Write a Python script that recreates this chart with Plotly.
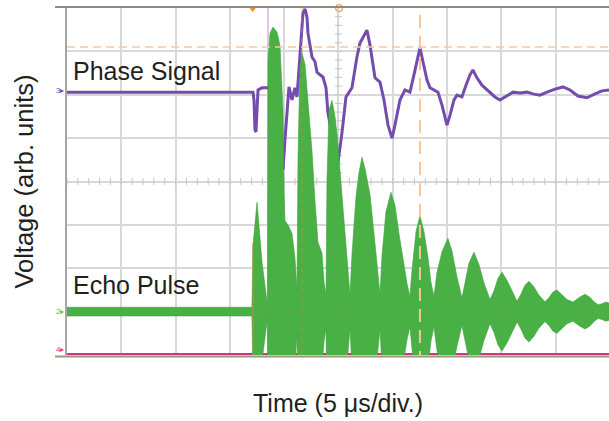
import numpy as np
import plotly.graph_objects as go

# ---- data (time in microseconds, voltage in screen divisions) ----
# Phase signal (channel 3, purple)
phase_t = [0, 17.13, 17.22, 17.31, 17.40, 17.50, 17.59, 17.96, 18.51, 18.69, 19.15, 19.89,
           20.07, 20.26, 20.44, 20.72, 20.99, 21.18, 21.36, 21.55, 21.73, 21.92, 22.10, 22.19,
           22.56, 22.84, 23.02, 23.30, 23.57, 23.85, 24.03, 24.49, 24.95, 25.32, 25.69, 26.24,
           26.70, 26.98, 27.62, 27.90, 28.18, 28.36, 28.82, 29.19, 29.56, 29.93, 30.20, 30.48,
           30.66, 31.12, 31.58, 31.95, 32.23, 32.50, 32.78, 33.15, 33.43, 34.16, 34.53, 34.99,
           35.27, 35.64, 35.91, 36.37, 36.74, 37.11, 37.38, 37.75, 38.21, 38.95, 39.41, 39.87,
           40.42, 41.07, 41.71, 42.36, 42.91, 43.55, 44.20, 44.94, 45.67, 46.32, 47.05, 47.88,
           48.62, 49.26, 49.91]
phase_v = [2.06, 2.06, 1.88, 1.19, 1.14, 1.65, 2.11, 2.16, 2.16, 2.11, 1.42, 0.27,
           0.96, 1.65, 2.18, 1.88, 2.16, 1.95, 2.64, 3.33, 3.88, 3.98, 3.79, 3.42,
           2.87, 2.76, 2.52, 2.46, 2.41, 2.16, 1.58, 0.96, 0.43, 1.12, 1.95, 2.16,
           2.87, 3.19, 3.49, 3.15, 2.69, 2.39, 2.29, 1.88, 1.30, 1.00, 1.30, 1.69,
           1.88, 2.11, 2.06, 2.46, 2.80, 3.08, 2.76, 2.34, 2.16, 2.06, 1.76, 1.30,
           1.53, 1.88, 1.99, 1.95, 2.22, 2.46, 2.57, 2.39, 2.22, 2.06, 1.95, 1.88,
           1.97, 2.06, 2.04, 2.06, 2.02, 1.99, 2.06, 2.13, 2.18, 2.11, 1.97, 1.93,
           2.02, 2.09, 2.11]

# Echo pulse (channel 2, green): baseline and envelope amplitude
echo_baseline = -3.0
echo_t = [0, 17.03, 17.13, 17.50, 17.96, 18.32, 18.46,
          18.51, 18.69, 18.97, 19.34, 19.61, 19.89, 19.98, 20.07, 20.35, 20.72, 20.99, 21.18,
          21.27, 21.45, 21.64, 21.92, 22.19, 22.56, 22.84, 23.11, 23.48, 23.66, 23.85,
          23.94, 24.13, 24.40, 24.68, 24.86, 25.14, 25.41, 25.69, 25.87, 26.06,
          26.24, 26.61, 26.89, 27.16, 27.44, 27.90, 28.27, 28.55, 28.82,
          29.01, 29.37, 29.83, 30.20, 30.57, 30.94, 31.31, 31.58,
          31.77, 32.14, 32.50, 32.87, 33.24, 33.52, 33.79,
          34.07, 34.53, 35.08, 35.45, 35.91, 36.37,
          36.65, 37.02, 37.48, 37.94, 38.40, 38.95,
          39.32, 39.69, 40.06, 40.52, 40.98, 41.44,
          41.80, 42.17, 42.54, 43.00, 43.46, 44.01,
          44.38, 44.75, 45.12, 45.58, 46.04, 46.59,
          46.87, 47.24, 47.70, 48.16, 48.53, 48.90,
          49.26, 49.63, 49.91]
echo_amp = [0.10, 0.10, 1.53, 2.52, 1.14, 0.36, 0.15,
            5.80, 6.42, 6.56, 6.44, 6.14, 4.64, 2.80, 2.10, 2.00, 1.80, 1.25, 0.50,
            3.49, 5.63, 5.96, 5.70, 4.85, 3.70, 2.55, 1.60, 1.35, 0.70, 0.38,
            3.03, 4.64, 4.87, 4.50, 4.10, 3.25, 2.35, 1.45, 0.90, 0.38,
            1.30, 2.65, 3.20, 3.56, 3.30, 2.70, 1.80, 1.05, 0.40,
            1.30, 2.30, 2.75, 2.45, 1.80, 1.20, 0.65, 0.35,
            0.95, 1.85, 2.21, 1.85, 1.25, 0.68, 0.35,
            0.90, 1.38, 1.69, 1.40, 0.80, 0.32,
            0.66, 1.12, 1.37, 1.08, 0.66, 0.28,
            0.48, 0.77, 0.91, 0.72, 0.48, 0.24,
            0.40, 0.61, 0.70, 0.57, 0.38, 0.23,
            0.32, 0.45, 0.50, 0.39, 0.28, 0.22,
            0.28, 0.34, 0.40, 0.33, 0.23, 0.16,
            0.18, 0.22, 0.20]

# Channel 4 (magenta) flat trace
ch4_t = [0, 49.91]
ch4_v = [-3.98, -3.98]

# Cursors / markers
cursor_h_level = 3.10
cursor_v_time = 32.5
cursor_v2_time = 21.64
trigger_time = 18.51
start_time = 17.13
top_marker_t = [17.1, 25.05]

X_RANGE = [0, 49.91]
Y_RANGE = [-4, 4]

FONT = "Arial, 'Liberation Sans', Helvetica, sans-serif"
TXT = "#231f20"
PURPLE = "rgb(116,76,174)"
GREEN = "rgb(72,176,68)"
GREEN_EDGE = "rgb(60,162,60)"

echo_t_a = np.array(echo_t)
echo_amp_a = np.array(echo_amp)

fig = go.Figure()

# center graticule ticks
ct = np.arange(0, 50.01, 1.0)
fig.add_trace(go.Scatter(x=ct, y=np.zeros_like(ct), mode="markers",
                         marker=dict(symbol="line-ns", size=5, line=dict(color="#c4c4c4", width=1)),
                         hoverinfo="skip", showlegend=False))
cv = np.arange(-4, 4.01, 0.2)
fig.add_trace(go.Scatter(x=np.full_like(cv, 25.0), y=cv, mode="markers",
                         marker=dict(symbol="line-ew", size=5, line=dict(color="#c4c4c4", width=1)),
                         hoverinfo="skip", showlegend=False))

# channel 4
fig.add_trace(go.Scatter(x=ch4_t, y=ch4_v, mode="lines",
                         line=dict(color="rgb(212,50,130)", width=2.2),
                         hoverinfo="skip", showlegend=False))

# phase signal
fig.add_trace(go.Scatter(x=phase_t, y=phase_v, mode="lines",
                         line=dict(color=PURPLE, width=3),
                         hoverinfo="skip", showlegend=False))

# echo pulse envelope
fig.add_trace(go.Scatter(x=echo_t_a, y=echo_baseline - echo_amp_a, mode="lines",
                         line=dict(color=GREEN_EDGE, width=0.6),
                         hoverinfo="skip", showlegend=False))
fig.add_trace(go.Scatter(x=echo_t_a, y=echo_baseline + echo_amp_a, mode="lines",
                         line=dict(color=GREEN_EDGE, width=0.6), fill="tonexty",
                         fillcolor=GREEN, hoverinfo="skip", showlegend=False))

# top markers
fig.add_trace(go.Scatter(x=[top_marker_t[0]], y=[4.0], mode="markers", cliponaxis=False,
                         marker=dict(symbol="triangle-down", size=8, color="rgb(240,140,50)"),
                         hoverinfo="skip", showlegend=False))
fig.add_trace(go.Scatter(x=[top_marker_t[1]], y=[4.0], mode="markers", cliponaxis=False,
                         marker=dict(symbol="circle-open", size=7, color="rgb(245,170,110)",
                                     line=dict(width=1.5)),
                         hoverinfo="skip", showlegend=False))

shapes = [
    # top and bottom frame lines
    dict(type="line", xref="paper", yref="paper", x0=-0.022, x1=1, y0=1.003, y1=1.003,
         line=dict(color="#8e8c78", width=2), layer="above"),
    dict(type="line", xref="paper", yref="paper", x0=-0.022, x1=1, y0=-0.004, y1=-0.004,
         line=dict(color="#9c9678", width=2), layer="below"),
    # trigger line
    dict(type="line", xref="x", yref="y", x0=trigger_time, x1=trigger_time, y0=-4, y1=4,
         line=dict(color="rgb(196,140,210)", width=1), layer="below"),
    dict(type="line", xref="x", yref="y", x0=start_time, x1=start_time, y0=-1.42, y1=-4,
         line=dict(color="rgb(200,136,58)", width=1), layer="above"),
    # cursors
    dict(type="line", xref="x", yref="y", x0=0, x1=X_RANGE[1], y0=cursor_h_level, y1=cursor_h_level,
         line=dict(color="rgb(249,200,160)", width=1.5, dash="8px,5px"), layer="above"),
    dict(type="line", xref="x", yref="y", x0=cursor_v_time, x1=cursor_v_time, y0=3.84, y1=-4,
         line=dict(color="rgb(248,196,150)", width=2, dash="13px,8px"), layer="above"),
    dict(type="line", xref="x", yref="y", x0=cursor_v2_time, x1=cursor_v2_time, y0=4, y1=-4,
         line=dict(color="rgba(205,140,70,0.6)", width=1, dash="5px,5px"), layer="above"),
    dict(type="line", xref="x", yref="y", x0=start_time, x1=X_RANGE[1], y0=echo_baseline, y1=echo_baseline,
         line=dict(color="rgba(190,130,60,0.55)", width=1, dash="5px,5px"), layer="above"),
]

annotations = [
    dict(text="Phase Signal", xref="paper", yref="y", x=0.007, y=2.55, xanchor="left", yanchor="middle",
         showarrow=False, font=dict(family=FONT, size=25, color=TXT)),
    dict(text="Echo Pulse", xref="paper", yref="y", x=0.007, y=-2.38, xanchor="left", yanchor="middle",
         showarrow=False, font=dict(family=FONT, size=25, color=TXT)),
    dict(text="Time (5 μs/div.)", xref="paper", yref="paper", x=0.5, y=-0.138, xanchor="center",
         yanchor="middle", showarrow=False, font=dict(family=FONT, size=25, color=TXT)),
    dict(text="Voltage (arb. units)", xref="paper", yref="paper", x=-0.081, y=0.5, xanchor="center",
         yanchor="middle", textangle=-90, showarrow=False, font=dict(family=FONT, size=25.5, color=TXT)),
    dict(text="3▸", xref="paper", yref="y", x=-0.001, y=2.1, xanchor="right", yanchor="middle",
         showarrow=False, font=dict(family=FONT, size=8, color=PURPLE)),
    dict(text="2▸", xref="paper", yref="y", x=-0.001, y=-3.0, xanchor="right", yanchor="middle",
         showarrow=False, font=dict(family=FONT, size=8, color="rgb(110,190,60)")),
    dict(text="4▸", xref="paper", yref="y", x=-0.001, y=-3.88, xanchor="right", yanchor="middle",
         showarrow=False, font=dict(family=FONT, size=8, color="rgb(225,60,140)")),
]

fig.update_layout(
    width=609, height=421,
    margin=dict(l=67, r=0, t=8, b=66),
    paper_bgcolor="white", plot_bgcolor="white",
    showlegend=False,
    shapes=shapes, annotations=annotations,
    xaxis=dict(range=X_RANGE, tick0=0, dtick=5, showgrid=True, gridcolor="#d8d8d8", gridwidth=1.5,
               showticklabels=False, ticks="", zeroline=False, showline=False, fixedrange=True),
    yaxis=dict(range=Y_RANGE, tick0=-4, dtick=1, showgrid=True, gridcolor="#d8d8d8", gridwidth=1.5,
               showticklabels=False, ticks="", zeroline=False, showline=True, linecolor="#a6a6a6",
               linewidth=1.5, fixedrange=True),
)

fig.write_html("out.html")
